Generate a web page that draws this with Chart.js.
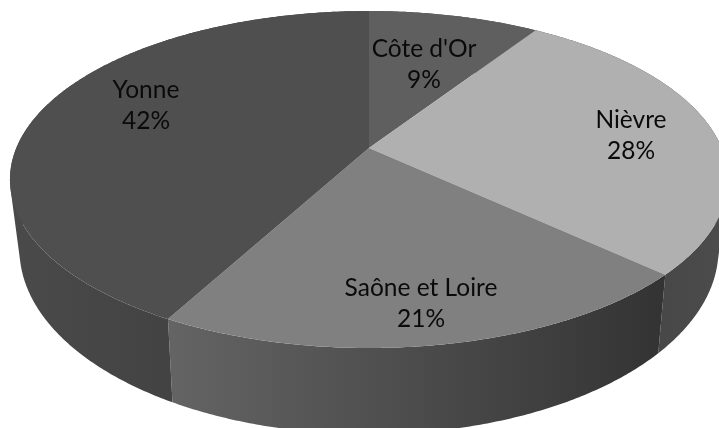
<!DOCTYPE html>
<html><head><meta charset="utf-8">
<style>html,body{margin:0;padding:0;background:#fff}canvas{display:block}</style>
<script src="https://cdn.jsdelivr.net/npm/chart.js@4"></script>
</head><body><canvas id="c" width="719" height="428"></canvas>
<script>
const categories = ["Côte d'Or", "Nièvre", "Saône et Loire", "Yonne"];
const values = [9.2, 27.7, 21.0, 42.1];
const percentLabels = ["9%", "28%", "21%", "42%"];
const topColors = ["#5f5f5f", "#b0b0b0", "#808080", "#4f4f4f"];
const wallColors = [["#555555","#555555"], ["#3f3f3f","#4c4c4c"], ["#646464","#333333"], ["#4a4a4a","#3a3a3a"]];
const labelAnchors = [[424,65],[631,136],[421,304],[146,106]];

const topRim = {cx:369, cy:148, A:352.7, B:162.6, k:0.187};
const lowRim = {cx:369, cy:214, A:343, B:178, k:0.192};
function project(r, ang){
  const u = Math.sin(ang), v = -Math.cos(ang), w = 1 - r.k*v;
  return [r.cx + r.A*u/w, r.cy + r.B*v/w];
}
const STEP = Math.PI/360;
function rimPoints(r, a0, a1){
  const pts = [], n = Math.max(2, Math.ceil((a1-a0)/STEP));
  for(let i=0;i<=n;i++) pts.push(project(r, a0+(a1-a0)*i/n));
  return pts;
}
function area(q){
  let s=0;
  q.forEach((p,i)=>{const n=q[(i+1)%q.length]; s+=p[0]*n[1]-n[0]*p[1];});
  return s;
}
function addPoly(ctx, pts){
  pts.forEach((p,i)=> i?ctx.lineTo(p[0],p[1]):ctx.moveTo(p[0],p[1]));
  ctx.closePath();
}
const pie3d = {
  id:'pie3d',
  beforeDatasetDraw(chart, args){
    const ctx = chart.ctx, arcs = args.meta.data;
    arcs.forEach((el,i)=>{
      const a0 = el.startAngle+Math.PI/2, a1 = el.endAngle+Math.PI/2;
      const t = rimPoints(topRim,a0,a1), b = rimPoints(lowRim,a0,a1);
      const xs = t.concat(b).map(p=>p[0]);
      const g = ctx.createLinearGradient(Math.min(...xs),0,Math.max(...xs),0);
      g.addColorStop(0,wallColors[i][0]); g.addColorStop(1,wallColors[i][1]);
      ctx.beginPath();
      for(let j=0;j<t.length-1;j++){
        let q=[t[j],t[j+1],b[j+1],b[j]];
        if(area(q)<0) q=q.reverse();
        addPoly(ctx,q);
      }
      ctx.fillStyle=g; ctx.fill('nonzero');
    });
    arcs.forEach((el,i)=>{
      const a0 = el.startAngle+Math.PI/2, a1 = el.endAngle+Math.PI/2;
      ctx.beginPath();
      addPoly(ctx,[[topRim.cx,topRim.cy]].concat(rimPoints(topRim,a0,a1)));
      ctx.fillStyle=el.options.backgroundColor; ctx.fill();
    });
    return false;
  },
  afterDatasetsDraw(chart){
    const ctx = chart.ctx;
    ctx.save();
    ctx.font = '24.5px Lato';
    ctx.fillStyle = '#0a0a0a';
    ctx.textAlign = 'center'; ctx.textBaseline = 'middle';
    chart.data.labels.forEach((name,i)=>{
      const [x,y] = labelAnchors[i];
      ctx.fillText(name, x, y-15.5);
      ctx.fillText(percentLabels[i], x, y+15.5);
    });
    ctx.restore();
  }
};
new Chart(document.getElementById('c'), {
  type:'pie',
  data:{labels:categories, datasets:[{data:values, backgroundColor:topColors, borderWidth:0}]},
  options:{responsive:false, animation:false, plugins:{legend:{display:false}, tooltip:{enabled:false}}},
  plugins:[pie3d]
});
</script></body></html>
